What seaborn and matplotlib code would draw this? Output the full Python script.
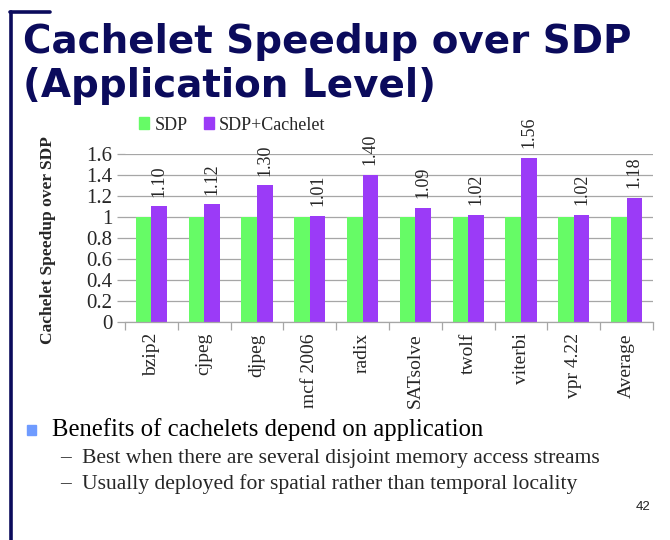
import matplotlib
matplotlib.use("Agg")
import matplotlib.pyplot as plt
from matplotlib.patches import Rectangle
from matplotlib.lines import Line2D
import seaborn as sns
import pandas as pd

categories = ["bzip2", "cjpeg", "djpeg", "mcf 2006", "radix", "SATsolve",
              "twolf", "viterbi", "vpr 4.22", "Average"]
sdp = [1, 1, 1, 1, 1, 1, 1, 1, 1, 1]
sdp_cachelet = [1.10, 1.12, 1.30, 1.01, 1.40, 1.09, 1.02, 1.56, 1.02, 1.18]
series_names = ["SDP", "SDP+Cachelet"]
yticks = [0, 0.2, 0.4, 0.6, 0.8, 1, 1.2, 1.4, 1.6]
ytick_labels = ["0", "0.2", "0.4", "0.6", "0.8", "1", "1.2", "1.4", "1.6"]

title_lines = ["Cachelet Speedup over SDP", "(Application Level)"]
bullet_text = "Benefits of cachelets depend on application"
sub_bullets = ["Best when there are several disjoint memory access streams",
               "Usually deployed for spatial rather than temporal locality"]
page_number = "42"

df = pd.DataFrame({
    "app": categories * 2,
    "series": [series_names[0]] * len(categories) + [series_names[1]] * len(categories),
    "value": sdp + sdp_cachelet,
})

sns.set_theme(style="white")
plt.rcParams["font.family"] = ["Liberation Serif", "DejaVu Serif"]

W, H = 670, 540
fig = plt.figure(figsize=(W / 100, H / 100), dpi=100)
fig.patch.set_facecolor("white")

navy = "#0b0b5c"
green = "#66FB66"
purple = "#9B3BF7"
grid_col = "#a6a6a6"

def fx(px):
    return px / W

def fy(py):
    return 1 - py / H

# slide decorations
fig.add_artist(Line2D([fx(11), fx(11)], [fy(12), fy(541)], color=navy, lw=2.6,
                      transform=fig.transFigure))
fig.add_artist(Line2D([fx(10), fx(50)], [fy(12), fy(12)], color=navy, lw=2.6,
                      transform=fig.transFigure))

for i, line in enumerate(title_lines):
    fig.text(fx(23), fy(53 + 44 * i), line, ha="left", va="baseline", color=navy,
             fontsize=28, fontweight="heavy", family="DejaVu Sans")

# chart
ax = fig.add_axes([fx(125), fy(322), fx(653) - fx(125), fy(154) - fy(322)])
sns.barplot(data=df, x="app", y="value", hue="series", order=categories,
            hue_order=series_names, palette=[green, purple], width=0.59,
            saturation=1, ax=ax, legend=False, edgecolor="none", linewidth=0)
ax.set_ylim(0, 1.6)
ax.set_xlim(-0.5, len(categories) - 0.5)
ax.set_yticks(yticks)
ax.set_yticklabels(ytick_labels, fontsize=15)
ax.yaxis.grid(True, color=grid_col, lw=0.9)
ax.set_axisbelow(True)
for s in ["top", "right", "left"]:
    ax.spines[s].set_visible(False)
ax.spines["bottom"].set_color(grid_col)
ax.spines["bottom"].set_linewidth(0.9)
ax.tick_params(axis="y", left=True, length=6, width=0.9, color=grid_col, pad=3)
ax.set_xticks(range(len(categories)))
ax.set_xticklabels(categories, rotation=90, fontsize=14)
ax.set_xticks([i - 0.5 for i in range(len(categories) + 1)], minor=True)
ax.tick_params(axis="x", which="major", length=0, pad=8)
ax.tick_params(axis="x", which="minor", bottom=True, length=6, width=0.9, color=grid_col)
ax.set_xlabel("")
ax.set_ylabel("")
ax.bar_label(ax.containers[1], fmt="%.2f", rotation=90, padding=7, fontsize=13)

fig.text(fx(48), fy(240), "Cachelet Speedup over SDP", rotation=90, ha="center",
         va="center", fontsize=12.5, fontweight="bold")

# legend
handles = [Rectangle((0, 0), 1, 1, color=green), Rectangle((0, 0), 1, 1, color=purple)]
fig.legend(handles, series_names, loc="center left", bbox_to_anchor=(fx(139), fy(125)),
           ncol=2, frameon=False, fontsize=13, handlelength=0.55, handleheight=0.6,
           handletextpad=0.3, columnspacing=0.9, borderaxespad=0, borderpad=0)

# bullets
fig.add_artist(Rectangle((fx(27), fy(435)), fx(9), fy(425) - fy(435), color="#6f9bff",
                         transform=fig.transFigure))
fig.text(fx(52), fy(430), bullet_text, ha="left", va="center", fontsize=17.8, color="black")
for i, t in enumerate(sub_bullets):
    y = 458 + 26 * i
    fig.text(fx(60), fy(y), "\u2013", ha="left", va="center", fontsize=15.5)
    fig.text(fx(82), fy(y), t, ha="left", va="center", fontsize=15.6)
fig.text(fx(650), fy(507), page_number, ha="right", va="center", fontsize=9.5,
         family="Liberation Sans", color="#222222")

fig.savefig("out.png", dpi=100)
